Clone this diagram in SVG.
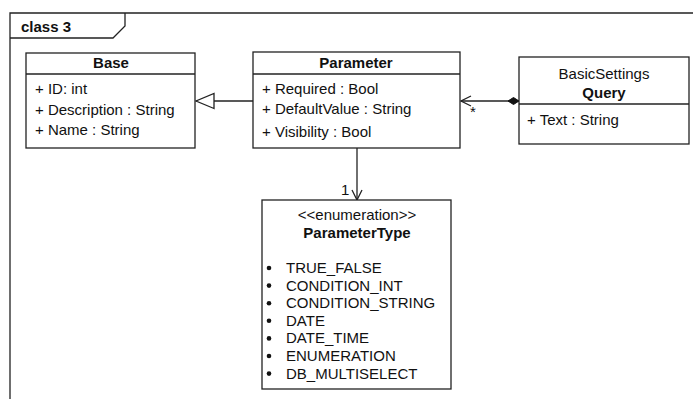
<svg xmlns="http://www.w3.org/2000/svg" width="693" height="399" viewBox="0 0 693 399">
  <style>
    text { font-family: "Liberation Sans", Arial, sans-serif; font-size: 15px; fill: #111; }
    .b { font-weight: bold; }
    .c { text-anchor: middle; }
    .box { fill: #fff; stroke: #222; stroke-width: 1.3; }
    .ln { fill: none; stroke: #222; stroke-width: 1.3; }
  </style>
  <defs>
    <marker id="open" markerWidth="12" markerHeight="12" refX="11" refY="6" orient="auto" markerUnits="userSpaceOnUse">
      <path d="M1,1 L11,6 L1,11" fill="none" stroke="#222" stroke-width="1.3"/>
    </marker>
    <marker id="tri" markerWidth="20" markerHeight="18" refX="19" refY="9" orient="auto" markerUnits="userSpaceOnUse">
      <path d="M1,1.5 L19,9 L1,16.5 Z" fill="#fff" stroke="#222" stroke-width="1.3"/>
    </marker>
    <marker id="diamond" markerWidth="14" markerHeight="10" refX="1" refY="5" orient="auto" markerUnits="userSpaceOnUse">
      <path d="M1,5 L6.5,1.5 L12,5 L6.5,8.5 Z" fill="#111" stroke="#111" stroke-width="1"/>
    </marker>
  </defs>

  <!-- package frame -->
  <g id="frame">
    <path class="ln" d="M693,13 H10 V399"/>
    <path class="ln" d="M10,38 H113 L125,26 V13"/>
    <text x="21" y="32" class="b">class 3</text>
  </g>

  <g id="connectors">
    <line class="ln" x1="253" y1="101" x2="196" y2="101" marker-end="url(#tri)"/>
    <line class="ln" x1="519" y1="101" x2="461" y2="101" marker-start="url(#diamond)" marker-end="url(#open)"/>
    <text x="470" y="117" font-size="13">*</text>
    <line class="ln" x1="357" y1="148" x2="357" y2="200" marker-end="url(#open)"/>
    <text x="341" y="195" font-size="12">1</text>
  </g>

  <g id="Base">
    <rect class="box" x="26" y="53" width="169" height="95"/>
    <line class="ln" x1="26" y1="74" x2="195" y2="74"/>
    <text x="111" y="68" class="b c">Base</text>
    <text x="35" y="94">+ ID: int</text>
    <text x="35" y="115">+ Description : String</text>
    <text x="35" y="135">+ Name : String</text>
  </g>

  <g id="Parameter">
    <rect class="box" x="253" y="52" width="207" height="96"/>
    <line class="ln" x1="253" y1="74" x2="460" y2="74"/>
    <text x="356" y="68" class="b c">Parameter</text>
    <text x="262" y="94">+ Required : Bool</text>
    <text x="262" y="114">+ DefaultValue : String</text>
    <text x="262" y="137">+ Visibility : Bool</text>
  </g>

  <g id="Query">
    <rect class="box" x="519" y="57" width="170" height="87"/>
    <line class="ln" x1="519" y1="104" x2="689" y2="104"/>
    <text x="604" y="79" class="c">BasicSettings</text>
    <text x="604" y="98" class="b c">Query</text>
    <text x="527" y="125">+ Text : String</text>
  </g>

  <g id="ParameterType">
    <rect class="box" x="262" y="200" width="189" height="189"/>
    <text x="357" y="220" class="c">&lt;&lt;enumeration&gt;&gt;</text>
    <text x="357" y="238" class="b c">ParameterType</text>
    <g fill="#111">
      <circle cx="269" cy="268" r="2.3"/>
      <circle cx="269" cy="285.6" r="2.3"/>
      <circle cx="269" cy="303.2" r="2.3"/>
      <circle cx="269" cy="320.8" r="2.3"/>
      <circle cx="269" cy="338.4" r="2.3"/>
      <circle cx="269" cy="356" r="2.3"/>
      <circle cx="269" cy="373.6" r="2.3"/>
    </g>
    <text x="286" y="273">TRUE_FALSE</text>
    <text x="286" y="290.6">CONDITION_INT</text>
    <text x="286" y="308.2">CONDITION_STRING</text>
    <text x="286" y="325.8">DATE</text>
    <text x="286" y="343.4">DATE_TIME</text>
    <text x="286" y="361">ENUMERATION</text>
    <text x="286" y="378.6">DB_MULTISELECT</text>
  </g>
</svg>
